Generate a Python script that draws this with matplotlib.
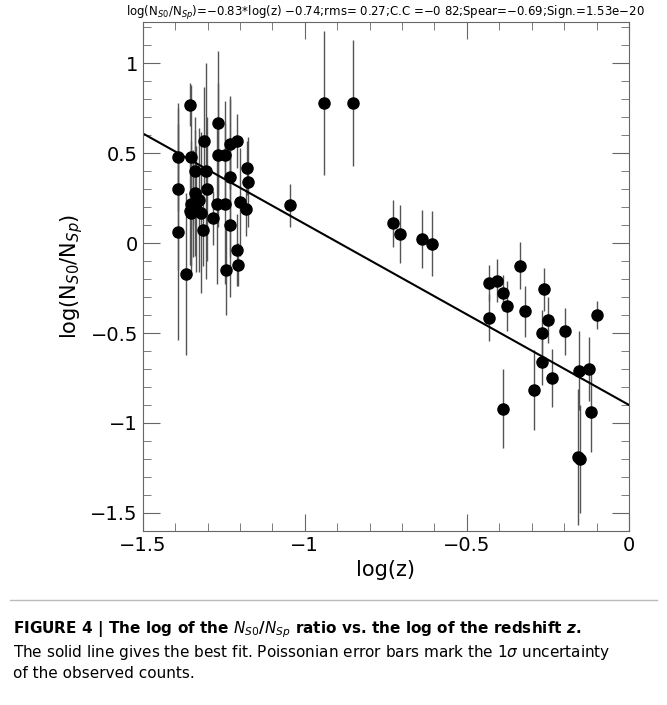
import matplotlib
matplotlib.use('Agg')
import matplotlib.pyplot as plt
import numpy as np
from matplotlib.ticker import MultipleLocator, FuncFormatter

# log(z), log(NS0/NSp), error half-length
logz = [-1.391, -1.391, -1.39, -1.365, -1.353, -1.352, -1.350, -1.352, -1.34, -1.338,
        -1.355, -1.345, -1.335, -1.325, -1.32, -1.313, -1.31, -1.305, -1.302, -1.284,
        -1.268, -1.268, -1.270, -1.247, -1.247, -1.244, -1.232, -1.232, -1.230, -1.21,
        -1.21, -1.207, -1.20, -1.178, -1.176, -1.18, -1.046,
        -0.94, -0.85,
        -0.729, -0.705, -0.640, -0.607, -0.431, -0.431, -0.408, -0.388, -0.377, -0.388,
        -0.336, -0.320, -0.293, -0.261, -0.251, -0.268, -0.268, -0.239, -0.197, -0.154,
        -0.124, -0.118, -0.100, -0.157, -0.152]
ratio = [0.48, 0.30, 0.06, -0.17, 0.77, 0.48, 0.22, 0.17, 0.40, 0.28,
         0.18, 0.22, 0.19, 0.24, 0.17, 0.07, 0.57, 0.40, 0.30, 0.14,
         0.67, 0.49, 0.22, 0.49, 0.22, -0.15, 0.55, 0.37, 0.10, 0.57,
         -0.04, -0.12, 0.23, 0.42, 0.34, 0.19, 0.21,
         0.78, 0.78,
         0.11, 0.05, 0.024, -0.004, -0.22, -0.415, -0.21, -0.28, -0.35, -0.92,
         -0.126, -0.38, -0.817, -0.256, -0.428, -0.50, -0.66, -0.75, -0.49, -0.71,
         -0.70, -0.94, -0.40, -1.19, -1.20]
err = [0.30, 0.45, 0.60, 0.45, 0.12, 0.40, 0.35, 0.35, 0.30, 0.35,
       0.30, 0.30, 0.35, 0.40, 0.45, 0.20, 0.30, 0.60, 0.40, 0.15,
       0.40, 0.40, 0.45, 0.30, 0.45, 0.25, 0.25, 0.45, 0.40, 0.15,
       0.20, 0.12, 0.30, 0.15, 0.25, 0.15, 0.12,
       0.40, 0.35,
       0.13, 0.16, 0.16, 0.18, 0.10, 0.13, 0.12, 0.10, 0.14, 0.22,
       0.13, 0.14, 0.22, 0.12, 0.13, 0.13, 0.13, 0.16, 0.13, 0.22,
       0.18, 0.22, 0.08, 0.38, 0.30]

fit_x = [-1.5, 0.0]
fit_y = [0.61, -0.90]

title = 'log(N$_{S0}$/N$_{Sp}$)=\u22120.83*log(z) \u22120.74;rms= 0.27;C.C =\u22120 82;Spear=\u22120.69;Sign.=1.53e\u221220'

def fmt(v, pos):
    s = ('%g' % round(v, 2)).replace('-', '\u2212')
    return '0' if s in ('0', '\u22120') else s

fig = plt.figure(figsize=(6.67, 7.05), dpi=100)
ax = fig.add_axes([0.214, 0.247, 0.729, 0.722])
ax.errorbar(logz, ratio, yerr=err, fmt='o', color='black', ecolor='#555555',
            elinewidth=1, markersize=8, capsize=0)
ax.plot(fit_x, fit_y, color='black', linewidth=1.5)
ax.set_xlim(-1.5, 0)
ax.set_ylim(-1.6, 1.23)
ax.xaxis.set_major_locator(MultipleLocator(0.5))
ax.xaxis.set_minor_locator(MultipleLocator(0.1))
ax.yaxis.set_major_locator(MultipleLocator(0.5))
ax.yaxis.set_minor_locator(MultipleLocator(0.1))
ax.xaxis.set_major_formatter(FuncFormatter(fmt))
ax.yaxis.set_major_formatter(FuncFormatter(fmt))
ax.tick_params(which='both', direction='in', top=True, right=True, labelsize=14,
               color='#666666', labelcolor='black')
ax.tick_params(which='major', length=12)
ax.tick_params(which='minor', length=6)
for s in ax.spines.values():
    s.set_color('#666666')
ax.set_xlabel('log(z)', fontsize=15)
ax.set_ylabel('log(N$_{S0}$/N$_{Sp}$)', fontsize=15)
ax.set_title(title, fontsize=8.5, pad=4)

fig.add_artist(plt.Line2D([0.015, 0.985], [1 - 600/705, 1 - 600/705], color='#bbbbbb', linewidth=1))
fig.text(0.02, 1 - 630/705, r'FIGURE 4 | The log of the $\boldsymbol{N_{S0}/N_{Sp}}$ ratio vs. the log of the redshift $\boldsymbol{z}$.',
         fontsize=11, fontweight='bold', va='center')
fig.text(0.02, 1 - 652/705, 'The solid line gives the best fit. Poissonian error bars mark the 1$\\sigma$ uncertainty',
         fontsize=11, va='center')
fig.text(0.02, 1 - 674/705, 'of the observed counts.', fontsize=11, va='center')
fig.savefig('out.png', dpi=100)
